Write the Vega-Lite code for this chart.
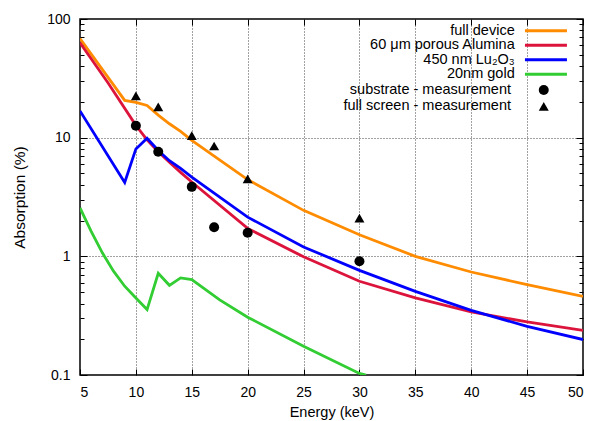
{
  "$schema": "https://vega.github.io/schema/vega-lite/v6.json",
  "width": 503,
  "height": 356,
  "autosize": "none",
  "padding": {"left": 80, "top": 19, "right": 10, "bottom": 46},
  "background": "white",
  "config": {
    "font": "Liberation Sans",
    "view": {"stroke": "#000", "strokeWidth": 1.5},
    "axis": {
      "domain": false,
      "labelFont": "Liberation Sans",
      "labelFontSize": 14,
      "labelColor": "#000",
      "titleFont": "Liberation Sans",
      "titleFontSize": 14.5,
      "titleFontWeight": "normal",
      "titleColor": "#000",
      "tickColor": "#000",
      "tickWidth": 1,
      "gridColor": "#444",
      "gridDash": [1, 2],
      "gridWidth": 1
    },
    "legend": {
      "labelFont": "Liberation Sans",
      "labelFontSize": 14.5,
      "labelColor": "#000",
      "labelLimit": 400,
      "padding": 0,
      "rowPadding": -0.5
    }
  },
  "datasets": {
    "curves": [
      {"E": 5, "A": 68.5, "series": "full device"},
      {"E": 9, "A": 20.6, "series": "full device"},
      {"E": 10, "A": 19.8, "series": "full device"},
      {"E": 11, "A": 18.7, "series": "full device"},
      {"E": 12, "A": 15.5, "series": "full device"},
      {"E": 13, "A": 13.1, "series": "full device"},
      {"E": 14, "A": 11.3, "series": "full device"},
      {"E": 15, "A": 9.5, "series": "full device"},
      {"E": 20, "A": 4.43, "series": "full device"},
      {"E": 25, "A": 2.44, "series": "full device"},
      {"E": 30, "A": 1.52, "series": "full device"},
      {"E": 35, "A": 1.0, "series": "full device"},
      {"E": 40, "A": 0.738, "series": "full device"},
      {"E": 45, "A": 0.577, "series": "full device"},
      {"E": 50, "A": 0.46, "series": "full device"},
      {"E": 5, "A": 63, "series": "60 μm porous Alumina"},
      {"E": 7.5, "A": 29, "series": "60 μm porous Alumina"},
      {"E": 10, "A": 12.7, "series": "60 μm porous Alumina"},
      {"E": 11, "A": 9.6, "series": "60 μm porous Alumina"},
      {"E": 12, "A": 7.6, "series": "60 μm porous Alumina"},
      {"E": 13, "A": 6.2, "series": "60 μm porous Alumina"},
      {"E": 14, "A": 5.1, "series": "60 μm porous Alumina"},
      {"E": 15, "A": 4.23, "series": "60 μm porous Alumina"},
      {"E": 20, "A": 1.72, "series": "60 μm porous Alumina"},
      {"E": 25, "A": 0.99, "series": "60 μm porous Alumina"},
      {"E": 30, "A": 0.616, "series": "60 μm porous Alumina"},
      {"E": 35, "A": 0.446, "series": "60 μm porous Alumina"},
      {"E": 40, "A": 0.34, "series": "60 μm porous Alumina"},
      {"E": 45, "A": 0.28, "series": "60 μm porous Alumina"},
      {"E": 50, "A": 0.238, "series": "60 μm porous Alumina"},
      {"E": 5, "A": 16.8, "series": "450 nm Lu₂O₃"},
      {"E": 9, "A": 4.2, "series": "450 nm Lu₂O₃"},
      {"E": 10, "A": 8.04, "series": "450 nm Lu₂O₃"},
      {"E": 11, "A": 9.9, "series": "450 nm Lu₂O₃"},
      {"E": 12, "A": 7.8, "series": "450 nm Lu₂O₃"},
      {"E": 13, "A": 6.4, "series": "450 nm Lu₂O₃"},
      {"E": 14, "A": 5.5, "series": "450 nm Lu₂O₃"},
      {"E": 15, "A": 4.66, "series": "450 nm Lu₂O₃"},
      {"E": 20, "A": 2.14, "series": "450 nm Lu₂O₃"},
      {"E": 25, "A": 1.2, "series": "450 nm Lu₂O₃"},
      {"E": 30, "A": 0.762, "series": "450 nm Lu₂O₃"},
      {"E": 35, "A": 0.507, "series": "450 nm Lu₂O₃"},
      {"E": 40, "A": 0.351, "series": "450 nm Lu₂O₃"},
      {"E": 45, "A": 0.257, "series": "450 nm Lu₂O₃"},
      {"E": 50, "A": 0.199, "series": "450 nm Lu₂O₃"},
      {"E": 5, "A": 2.56, "series": "20nm gold"},
      {"E": 6, "A": 1.62, "series": "20nm gold"},
      {"E": 7, "A": 1.07, "series": "20nm gold"},
      {"E": 8, "A": 0.75, "series": "20nm gold"},
      {"E": 9, "A": 0.56, "series": "20nm gold"},
      {"E": 10, "A": 0.446, "series": "20nm gold"},
      {"E": 11, "A": 0.356, "series": "20nm gold"},
      {"E": 12, "A": 0.72, "series": "20nm gold"},
      {"E": 13, "A": 0.57, "series": "20nm gold"},
      {"E": 14, "A": 0.658, "series": "20nm gold"},
      {"E": 15, "A": 0.636, "series": "20nm gold"},
      {"E": 17.5, "A": 0.43, "series": "20nm gold"},
      {"E": 20, "A": 0.307, "series": "20nm gold"},
      {"E": 25, "A": 0.175, "series": "20nm gold"},
      {"E": 30, "A": 0.103, "series": "20nm gold"},
      {"E": 30.6, "A": 0.1, "series": "20nm gold"}
    ],
    "meas": [
      {"E": 10, "A": 12.6, "kind": "substrate - measurement"},
      {"E": 12, "A": 7.6, "kind": "substrate - measurement"},
      {"E": 15, "A": 3.85, "kind": "substrate - measurement"},
      {"E": 17, "A": 1.76, "kind": "substrate - measurement"},
      {"E": 20, "A": 1.58, "kind": "substrate - measurement"},
      {"E": 30, "A": 0.91, "kind": "substrate - measurement"},
      {"E": 10, "A": 22.5, "kind": "full screen - measurement"},
      {"E": 12, "A": 18.2, "kind": "full screen - measurement"},
      {"E": 15, "A": 10.4, "kind": "full screen - measurement"},
      {"E": 17, "A": 8.5, "kind": "full screen - measurement"},
      {"E": 20, "A": 4.5, "kind": "full screen - measurement"},
      {"E": 30, "A": 2.1, "kind": "full screen - measurement"}
    ]
  },
  "layer": [
    {
      "data": {"name": "curves"},
      "mark": {"type": "line", "strokeWidth": 2.8, "clip": true},
      "encoding": {
        "x": {
          "field": "E", "type": "quantitative",
          "scale": {"domain": [5, 50], "nice": false, "zero": false},
          "axis": {
            "orient": "bottom",
            "values": [5, 10, 15, 20, 25, 30, 35, 40, 45, 50],
            "title": "Energy (keV)",
            "grid": true,
            "tickSize": -6,
            "labelPadding": 16,
            "titlePadding": 6
          }
        },
        "y": {
          "field": "A", "type": "quantitative",
          "scale": {"type": "log", "domain": [0.1, 100], "nice": false},
          "axis": {
            "orient": "left",
            "values": [0.1, 0.2, 0.3, 0.4, 0.5, 0.6, 0.7, 0.8, 0.9, 1, 2, 3, 4, 5, 6, 7, 8, 9, 10, 20, 30, 40, 50, 60, 70, 80, 90, 100],
            "title": "Absorption (%)",
            "titleFontSize": 15.5,
            "grid": true,
            "gridOpacity": {"condition": {"test": "datum.value == 0.1 || datum.value == 1 || datum.value == 10 || datum.value == 100", "value": 1}, "value": 0},
            "tickSize": {"condition": {"test": "datum.value == 0.1 || datum.value == 1 || datum.value == 10 || datum.value == 100", "value": -7}, "value": -4},
            "labelExpr": "datum.value == 0.1 ? '0.1' : datum.value == 1 ? '1' : datum.value == 10 ? '10' : datum.value == 100 ? '100' : ''",
            "labelPadding": 17,
            "titlePadding": 19
          }
        },
        "color": {
          "field": "series", "type": "nominal",
          "scale": {
            "domain": ["full device", "60 μm porous Alumina", "450 nm Lu₂O₃", "20nm gold"],
            "range": ["#ff8c00", "#dc143c", "#0000ff", "#32cd32"]
          },
          "legend": {
            "title": null,
            "orient": "none",
            "legendX": 458.7,
            "legendY": 4.5,
            "symbolType": "M-4.2,0H4.2",
            "symbolSize": 100,
            "symbolStrokeWidth": 3,
            "labelAlign": "right",
            "labelOffset": -38.5
          }
        }
      }
    },
    {
      "data": {"name": "meas"},
      "mark": {"type": "point", "filled": true, "size": 100, "color": "#000", "opacity": 1},
      "encoding": {
        "x": {
          "field": "E", "type": "quantitative",
          "axis": {
            "orient": "top",
            "values": [5, 10, 15, 20, 25, 30, 35, 40, 45, 50],
            "labels": false,
            "title": null,
            "grid": false,
            "tickSize": -6
          }
        },
        "y": {
          "field": "A", "type": "quantitative",
          "axis": {
            "orient": "right",
            "values": [0.1, 0.2, 0.3, 0.4, 0.5, 0.6, 0.7, 0.8, 0.9, 1, 2, 3, 4, 5, 6, 7, 8, 9, 10, 20, 30, 40, 50, 60, 70, 80, 90, 100],
            "labels": false,
            "title": null,
            "grid": false,
            "tickSize": {"condition": {"test": "datum.value == 0.1 || datum.value == 1 || datum.value == 10 || datum.value == 100", "value": -7}, "value": -4}
          }
        },
        "shape": {
          "field": "kind", "type": "nominal",
          "scale": {
            "domain": ["substrate - measurement", "full screen - measurement"],
            "range": ["circle", "triangle-up"]
          },
          "legend": {
            "title": null,
            "orient": "none",
            "legendX": 456.5,
            "legendY": 63.7,
            "symbolSize": 100,
            "symbolFillColor": "#000",
            "symbolStrokeColor": "#000",
            "labelAlign": "right",
            "labelOffset": -40
          }
        }
      }
    }
  ],
  "resolve": {"axis": {"x": "independent", "y": "independent"}}
}
